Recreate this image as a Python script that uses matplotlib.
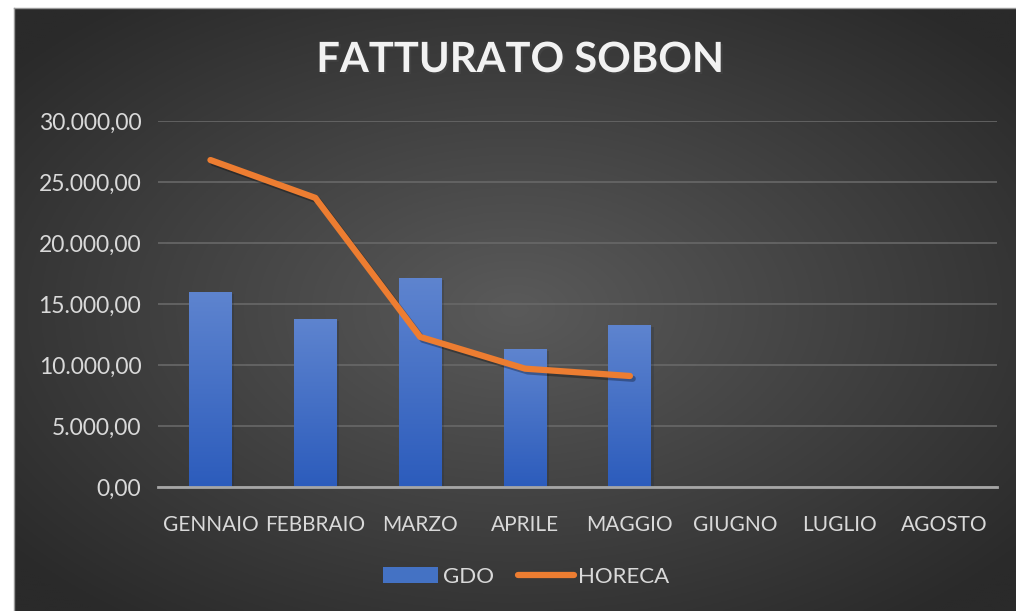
import numpy as np
import matplotlib.pyplot as plt
from matplotlib.patches import Patch
from matplotlib.lines import Line2D
from matplotlib.ticker import FuncFormatter, MultipleLocator
import matplotlib.patheffects as pe

plt.rcParams['font.family'] = ['Lato', 'DejaVu Sans']

mesi = ['GENNAIO', 'FEBBRAIO', 'MARZO', 'APRILE', 'MAGGIO', 'GIUGNO', 'LUGLIO', 'AGOSTO']
gdo = [16000, 13800, 17100, 11300, 13300]
horeca = [26800, 23700, 12300, 9700, 9100]

W, H = 1016, 611
fig = plt.figure(figsize=(W / 100, H / 100), dpi=100, facecolor='white')

# dark radial background of the chart area (white margin top/left as in screenshot)
bg = fig.add_axes([14 / W, 0, 1 - 14 / W, 1 - 8 / H])
yy, xx = np.mgrid[-1:1:300j, -1:1:500j]
r = np.clip(np.sqrt(xx ** 2 + yy ** 2) / 1.3, 0, 1)
c0, c1 = 0x5a / 255, 0x2a / 255
img = c0 + (c1 - c0) * r
bg.imshow(np.dstack([img, img, img]), aspect='auto', extent=[0, 1, 0, 1])
bg.set_xlim(0, 1)
bg.set_ylim(0, 1)
bg.set_xticks([])
bg.set_yticks([])
for s in bg.spines.values():
    s.set_color('#9a9a9a')
    s.set_linewidth(1)
bg.spines['right'].set_visible(False)
bg.spines['bottom'].set_visible(False)

ax = fig.add_axes([158 / W, 1 - 487 / H, (997 - 158) / W, (487 - 121) / H])
ax.set_facecolor('none')
x = np.arange(len(mesi))

bars = ax.bar(x[:len(gdo)], gdo, width=0.41, color='#4472C4', zorder=2)
grad = np.linspace(0, 1, 100).reshape(-1, 1)
top = np.array([0x5e, 0x84, 0xcf]) / 255
bot = np.array([0x2c, 0x5c, 0xbc]) / 255
cols = bot + (top - bot) * grad
for b in bars:
    x0, y0 = b.get_x(), b.get_y()
    im = ax.imshow(cols[:, None, :], aspect='auto', origin='lower',
                   extent=[x0, x0 + b.get_width(), y0, y0 + b.get_height()], zorder=2)
    im.set_clip_path(b)
    b.set_path_effects([pe.SimplePatchShadow(offset=(1.5, -1.5), alpha=0.2), pe.Normal()])

ax.plot(x[:len(horeca)], horeca, color='#ED7D31', lw=4.5, solid_capstyle='round',
        solid_joinstyle='round', zorder=3,
        path_effects=[pe.SimpleLineShadow(offset=(2, -2), alpha=0.3), pe.Normal()])

ax.set_xlim(-0.5, len(mesi) - 0.5)
ax.set_ylim(0, 30000)
ax.yaxis.set_major_locator(MultipleLocator(5000))
ax.yaxis.set_major_formatter(FuncFormatter(
    lambda v, p: f'{v:,.2f}'.replace(',', 'X').replace('.', ',').replace('X', '.')))
ax.set_xticks(x)
ax.set_xticklabels(mesi)
ax.tick_params(axis='both', length=0, colors='#d9d9d9')
ax.tick_params(axis='x', pad=20, labelsize=15)
ax.tick_params(axis='y', pad=12, labelsize=16.5)
ax.grid(axis='y', color='#686868', lw=1.2, zorder=0)
ax.set_axisbelow(True)
for s in ['top', 'right', 'left']:
    ax.spines[s].set_visible(False)
ax.spines['bottom'].set_color('#a6a6a6')
ax.spines['bottom'].set_linewidth(2)
ax.spines['bottom'].set_zorder(4)

fig.text(520 / W, 1 - 60 / H, 'FATTURATO SOBON', ha='center', va='center',
         fontsize=30, fontweight='bold', color='#f2f2f2',
         path_effects=[pe.withSimplePatchShadow(offset=(1.5, -1.5), alpha=0.5)])

handles = [Patch(facecolor='#4472C4', label='GDO'),
           Line2D([], [], color='#ED7D31', lw=4.5, solid_capstyle='round', label='HORECA')]
fig.legend(handles=handles, loc='center', bbox_to_anchor=(526 / W, 1 - 577 / H), ncol=2,
           frameon=False, fontsize=16, labelcolor='#d9d9d9', handlelength=2.5,
           handletextpad=0.2, columnspacing=1.1)

fig.savefig('out.png', dpi=100, facecolor='white')
